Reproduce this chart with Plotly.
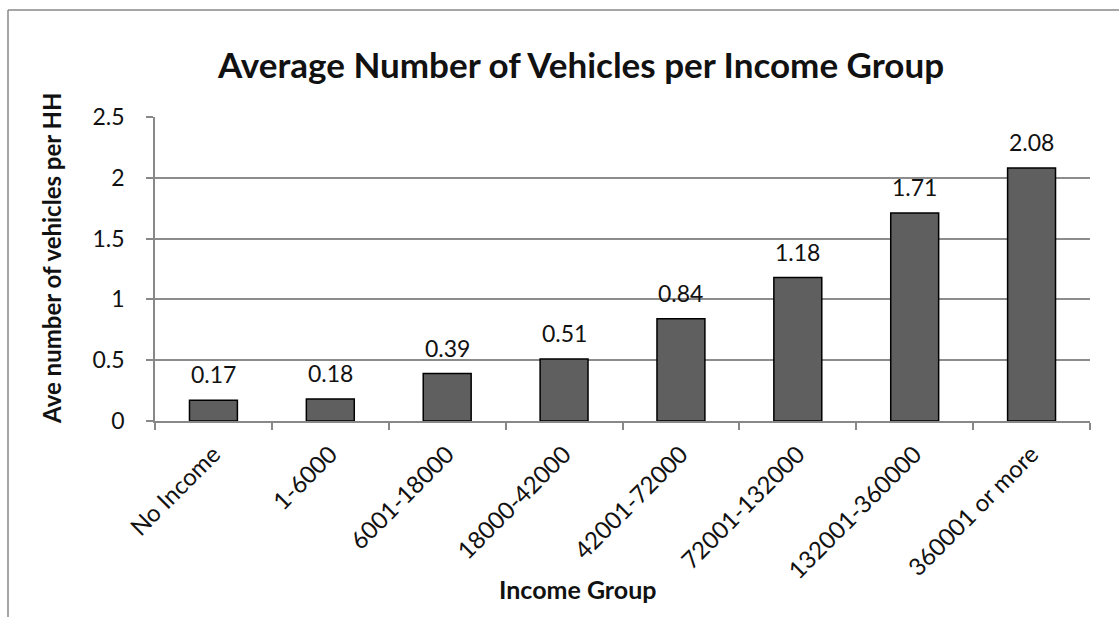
import plotly.graph_objects as go

categories = ["No Income", "1-6000", "6001-18000", "18000-42000", "42001-72000",
              "72001-132000", "132001-360000", "360001 or more"]
values = [0.17, 0.18, 0.39, 0.51, 0.84, 1.18, 1.71, 2.08]
labels = ["0.17", "0.18", "0.39", "0.51", "0.84", "1.18", "1.71", "2.08"]

W, H = 1119, 617
L, R, T, B = 155, 1090, 117, 421
FONT = "Lato"

def px_x(p):
    return (p - L) / (R - L)

def px_y(p):
    return (B - p) / (B - T)

fig = go.Figure(go.Bar(
    x=categories, y=values,
    marker=dict(color="#5f5f5f", line=dict(color="#000", width=1.5)),
    cliponaxis=False, width=0.41,
))

value_annotations = [
    dict(text=t, x=c, y=v, xref="x", yref="y", xanchor="center", yanchor="bottom",
         yshift=10, showarrow=False, font=dict(size=23, family=FONT, color="#111"))
    for c, v, t in zip(categories, values, labels)
]

fig.update_layout(
    width=W, height=H,
    margin=dict(l=L, r=W - R, t=T, b=H - B),
    paper_bgcolor="white", plot_bgcolor="white",
    showlegend=False,
    font=dict(family=FONT, color="#111"),
    bargap=0.59,
    annotations=value_annotations + [
        dict(text="<b>Average Number of Vehicles per Income Group</b>", xref="paper", yref="paper",
             x=px_x(580), y=px_y(64), xanchor="center", yanchor="middle", showarrow=False,
             font=dict(size=35, family=FONT, color="#111")),
        dict(text="<b>Ave number of vehicles per HH</b>", xref="paper", yref="paper",
             x=px_x(51), y=px_y(258), xanchor="center", yanchor="middle", showarrow=False,
             textangle=-90, font=dict(size=24, family=FONT, color="#111")),
        dict(text="<b>Income Group</b>", xref="paper", yref="paper",
             x=px_x(577), y=px_y(589), xanchor="center", yanchor="middle", showarrow=False,
             font=dict(size=25, family=FONT, color="#111")),
    ],
    shapes=[
        dict(type="line", xref="paper", yref="paper", x0=px_x(8), x1=px_x(8),
             y0=px_y(620), y1=px_y(10), line=dict(color="#888", width=1.5)),
        dict(type="line", xref="paper", yref="paper", x0=px_x(8), x1=px_x(1122),
             y0=px_y(10), y1=px_y(10), line=dict(color="#888", width=1.5)),
    ],
)

fig.update_xaxes(
    type="category", tickangle=-45, tickson="boundaries",
    ticks="outside", ticklen=7, tickcolor="#888", tickwidth=1.5,
    showline=True, linecolor="#888", linewidth=1.5, ticklabelstandoff=8,
    showgrid=False, tickfont=dict(size=24, family=FONT, color="#111"),
)
fig.update_yaxes(
    range=[0, 2.5], tickvals=[0, 0.5, 1, 1.5, 2, 2.5],
    ticktext=["0", "0.5", "1", "1.5", "2", "2.5"],
    ticks="outside", ticklen=7, tickcolor="#888", tickwidth=1.5,
    showline=True, linecolor="#888", linewidth=1.5, ticklabelstandoff=17,
    showgrid=True, gridcolor="#8c8c8c", gridwidth=1.5,
    zeroline=False, tickfont=dict(size=23, family=FONT, color="#111"),
)

fig.write_html("out.html", config={"displayModeBar": False},
               post_script="document.body.style.margin='0';")
